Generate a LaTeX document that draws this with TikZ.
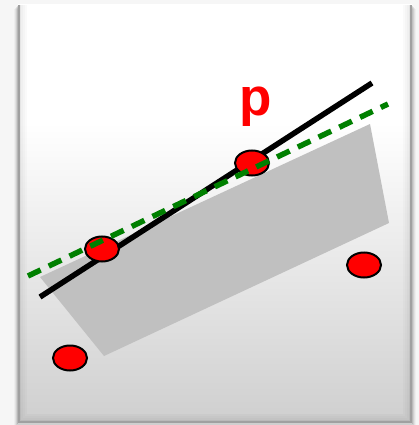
\documentclass[tikz,border=0pt]{standalone}
\usepackage{fontspec}
\setmainfont{Liberation Sans}
\usetikzlibrary{shapes.geometric}
\definecolor{bgout}{HTML}{F6F6F6}
\definecolor{panelbot}{HTML}{CFCFCF}
\definecolor{planegray}{HTML}{C0C0C0}
\definecolor{dkgreen}{RGB}{0,128,0}
\definecolor{bevel}{HTML}{A0A0A0}
\pgfdeclareverticalshading{panel}{100bp}{color(0bp)=(panelbot); color(25bp)=(panelbot); color(61bp)=(white); color(100bp)=(white)}
\tikzset{
  dot/.style={ellipse, draw=black, line width=2pt, fill=red, minimum width=34pt, minimum height=25pt, inner sep=0pt},
  fitline/.style={line width=5.5pt, black},
  estline/.style={line width=5.5pt, dkgreen, dash pattern=on 14pt off 9pt},
  lbl/.style={text=red, font=\bfseries\fontsize{53}{60}\selectfont, inner sep=0pt, anchor=base}
}
\begin{document}
\begin{tikzpicture}[x=1pt,y=-1pt]
\useasboundingbox (0,0) rectangle (419,425);
\fill[bgout] (0,0) rectangle (419,425);
% soft shadow
\foreach \d/\o in {1/0.12,2/0.08,3/0.05,4/0.03}{
  \fill[black,opacity=\o] (18-\d,5+\d) rectangle (412+\d,423+\d);
}
% panel
\shade[shading=panel] (18,5) rectangle (412,423);
% inner bevel
\foreach \d/\o in {2/0.10,4/0.06,6/0.04,8/0.02}{
  \draw[black,opacity=\o,line width=2pt] (18+\d,5) -- (18+\d,423-\d) -- (412-\d,423-\d) -- (412-\d,5);
}
\draw[bevel,line width=2pt] (19,5) -- (19,422) -- (411,422) -- (411,5);
% plane
\fill[planegray] (40,277) -- (370,124) -- (389,223) -- (104,356) -- cycle;
% coordinates
\coordinate (b1) at (40,297);
\coordinate (b2) at (372,83);
\coordinate (g1) at (28,276);
\coordinate (g2) at (388,104);
% black line
\draw[fitline] (b1) -- (b2);
% points
\node[dot] (p1) at (102,249) {};
\node[dot] (p2) at (252,163) {};
\node[dot] (p3) at (70,358) {};
\node[dot] (p4) at (364,265) {};
% green dashed line
\draw[estline] (g1) -- (g2);
% label
\node[lbl] (lp) at (256,115) {p};
\end{tikzpicture}
\end{document}
